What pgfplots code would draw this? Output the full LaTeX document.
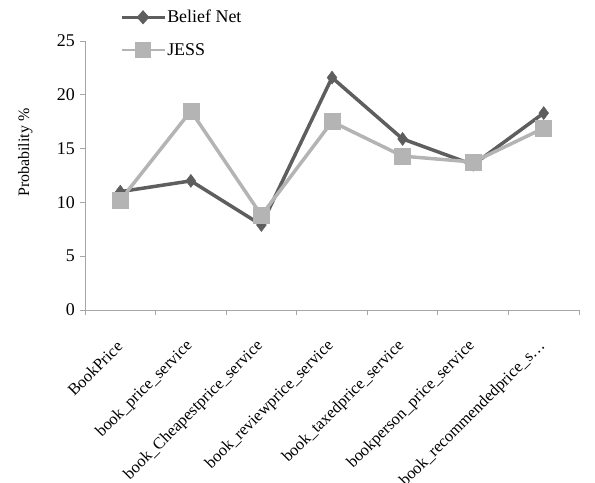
\documentclass[border=0pt]{standalone}
\usepackage{pgfplots}
\pgfplotsset{compat=1.18}
\usepackage{fontspec}
\setmainfont{Liberation Serif}

\definecolor{beliefc}{HTML}{5E5E5E}
\definecolor{jessc}{HTML}{B4B4B4}
\definecolor{axisc}{HTML}{A6A6A6}

\begin{document}
\begin{tikzpicture}
\begin{axis}[
  name=ax,
  scale only axis,
  width=494bp, height=269bp,
  xmin=-0.5, xmax=6.5,
  ymin=0, ymax=25,
  ytick={0,5,10,15,20,25},
  /pgf/number format/assume math mode=true,
  xtick={-0.5,0.5,1.5,2.5,3.5,4.5,5.5,6.5},
  xticklabels={},
  extra x ticks={0,1,2,3,4,5,6},
  extra x tick labels={BookPrice, book\_price\_service, book\_Cheapestprice\_service,
    book\_reviewprice\_service, book\_taxedprice\_service,
    bookperson\_price\_service, book\_recommendedprice\_s\ldots},
  extra x tick style={major tick length=0pt},
  major tick length=5bp,
  axis lines=left,
  axis line style={-, draw=axisc, line width=1bp},
  tick style={draw=axisc, line width=1bp},
  tick align=outside,
  every tick label/.append style={font=\fontsize{18}{20}\selectfont, text=black},
  xticklabel style={font=\fontsize{16.5}{19}\selectfont, xshift=0bp, yshift=-33bp, rotate=45, anchor=east, inner sep=1bp},
  yticklabel style={inner sep=2bp, xshift=-3bp},
  ylabel={Probability \%},
  ylabel style={font=\fontsize{16}{18}\selectfont, at={(axis description cs:-0.121,0.585)}, anchor=center},
  legend style={draw=none, fill=none, at={(axis description cs:0.071,1.028)}, anchor=west,
    font=\fontsize{18}{20}\selectfont, row sep=16bp, inner sep=0pt,
    nodes={inner sep=1.5bp}},
  legend cell align=left,
  clip=false,
]
\addplot[color=beliefc, line width=3.5bp, mark=diamond*, mark size=6.5bp,
  mark options={fill=beliefc, draw=beliefc, line width=0.5bp},
  legend image code/.code={
    \draw[color=beliefc, line width=2.5bp] (0bp,0bp) -- (43bp,0bp);
    \fill[beliefc] (21.5bp,4.5bp) -- (25.5bp,0bp) -- (21.5bp,-4.5bp) -- (17.5bp,0bp) -- cycle;
  }]
  coordinates {(0,11.0) (1,12.0) (2,7.9) (3,21.6) (4,15.9) (5,13.5) (6,18.3)};
\addlegendentry{Belief Net}
\addplot[color=jessc, line width=3.5bp, mark=square*, mark size=8bp,
  mark options={fill=jessc, draw=jessc, line width=0.5bp},
  legend image code/.code={
    \draw[color=jessc, line width=2.5bp] (0bp,0bp) -- (43bp,0bp);
    \fill[jessc] (15.5bp,-6bp) rectangle (27.5bp,6bp);
  }]
  coordinates {(0,10.2) (1,18.5) (2,8.8) (3,17.5) (4,14.3) (5,13.75) (6,16.9)};
\addlegendentry{JESS}
\end{axis}
\pgfresetboundingbox
\path ([shift={(-85bp,-173bp)}]ax.south west) rectangle ([shift={(16bp,41bp)}]ax.north east);
\end{tikzpicture}
\end{document}
